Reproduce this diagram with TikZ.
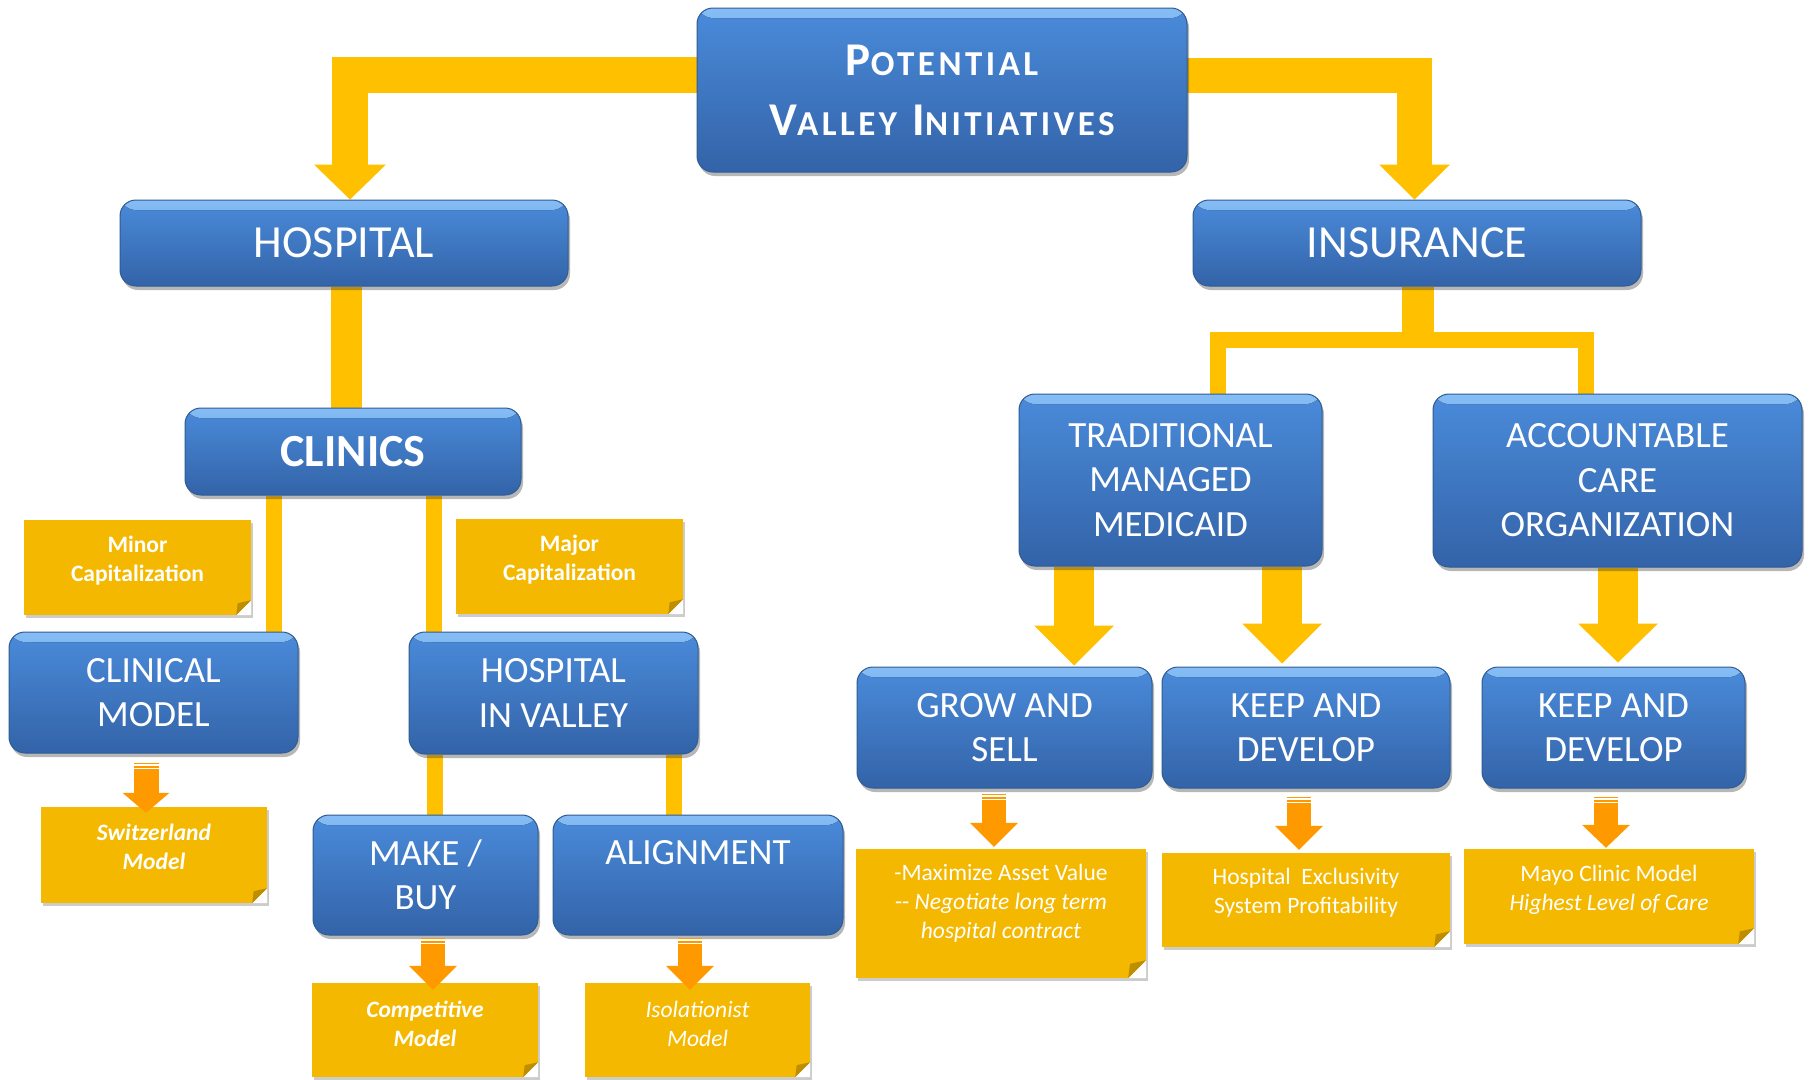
\documentclass[tikz,border=0pt]{standalone}
\usepackage{fontspec}
\setmainfont{Carlito}
\newfontfamily\lsfont[LetterSpace=10]{Carlito}
\usetikzlibrary{shadows,calc}
\definecolor{bxtop}{HTML}{4A8BDA}
\definecolor{bxbot}{HTML}{3363A8}
\definecolor{bxhi}{HTML}{86BDF5}
\definecolor{bxedge}{HTML}{2E5C94}
\definecolor{ygold}{HTML}{FFC000}
\definecolor{notec}{HTML}{F4B800}
\definecolor{foldc}{HTML}{BE8E00}
\definecolor{orng}{HTML}{FF9900}
\pgfdeclarelayer{bg}
\pgfsetlayers{bg,main}
\newcommand\ahead[4]{\fill[fill=#4] ($(#1)+(-#2/2,-#3)$) -- ($(#1)+(#2/2,-#3)$) -- (#1) -- cycle;}
\newcommand\fold[2]{%
  \fill[white] (#1.south east) -- ($(#1.south east)+(0,-#2)$) -- ($(#1.south east)+(-#2,0)$) -- cycle;
  \fill[foldc] ($(#1.south east)+(0,-#2)$) -- ($(#1.south east)+(-#2,0)$) -- ($(#1.south east)+(-0.9*#2,-0.8*#2)$) -- cycle;}
\newcommand\stripes[2]{%
  \draw[white, line width=1.3pt] ($(#1)+(-#2/2,2.5)$) -- ($(#1)+(#2/2,2.5)$);
  \draw[white, line width=1.1pt] ($(#1)+(-#2/2,6)$) -- ($(#1)+(#2/2,6)$);}
\newcommand\sca[2]{{\fontsize{47}{60}\selectfont #1}{\fontsize{35}{60}\selectfont #2}}
\tikzset{
  bbox/.style={rounded corners=16pt, draw=bxedge, line width=1pt, top color=bxtop, bottom color=bxbot,
    text=white, align=center, inner sep=0pt,
    drop shadow={shadow xshift=2pt, shadow yshift=-4pt, opacity=0.35, fill=black!80},
    path picture={\fill[top color=bxhi, bottom color=bxtop] (path picture bounding box.north west) rectangle ($(path picture bounding box.north east)+(0,10)$);}},
  bfont/.style={font=\fontsize{37}{44.5}\selectfont},
  note/.style={fill=notec, inner sep=0pt, drop shadow={shadow xshift=2pt, shadow yshift=-3pt, opacity=0.2, fill=black}},
  ntext/.style={text=white, align=center, inner sep=0pt},
  ythick/.style={draw=ygold, line width=#1},
}
\begin{document}
\begin{tikzpicture}[x=1pt,y=-1pt]
\useasboundingbox (0,0) rectangle (1815,1079);
% blue boxes
\node[bbox, minimum width=490pt, minimum height=164pt, font=\lsfont\bfseries\fontsize{47}{60}\selectfont] (top) at (942,90)
  {\sca{P}{OTENTIAL}\\\sca{V}{ALLEY} \sca{I}{NITIATIVES}};
\node[bbox, minimum width=448pt, minimum height=86pt, font=\fontsize{46}{55}\selectfont] (hosp) at (344,243) {HOSPITAL};
\node[bbox, minimum width=448pt, minimum height=86pt, font=\fontsize{46}{55}\selectfont] (ins) at (1417,243) {INSURANCE};
\node[bbox, minimum width=336pt, minimum height=87pt, font=\bfseries\fontsize{46}{55}\selectfont] (clin) at (353,451.5) {CLINICS};
\node[bbox, bfont, minimum width=289pt, minimum height=121pt] (clinmod) at (153.5,692.5) {CLINICAL\\MODEL};
\node[bbox, bfont, minimum width=289pt, minimum height=122pt] (hiv) at (553.5,693) {HOSPITAL\\IN VALLEY};
\node[bbox, bfont, minimum width=225pt, minimum height=120pt] (make) at (425.5,875) {MAKE /\\BUY};
\node[bbox, bfont, minimum width=290pt, minimum height=120pt] (alig) at (698,875) {ALIGNMENT\\\mbox{}};
\node[bbox, bfont, minimum width=303pt, minimum height=172pt] (tmm) at (1170.5,480) {TRADITIONAL\\MANAGED\\MEDICAID};
\node[bbox, bfont, minimum width=369pt, minimum height=173pt] (aco) at (1617.5,480.5) {ACCOUNTABLE\\CARE\\ORGANIZATION};
\node[bbox, bfont, minimum width=295pt, minimum height=121pt] (grow) at (1004.5,727.5) {GROW AND\\SELL};
\node[bbox, bfont, minimum width=288pt, minimum height=121pt] (keepa) at (1306,727.5) {KEEP AND\\DEVELOP};
\node[bbox, bfont, minimum width=263pt, minimum height=121pt] (keepb) at (1613.5,727.5) {KEEP AND\\DEVELOP};
% notes
\node[note, minimum width=227pt, minimum height=95pt] (nminor) at (137.5,567.5) {};
\node[note, minimum width=227pt, minimum height=95pt] (nmajor) at (569.5,566.5) {};
\node[note, minimum width=226pt, minimum height=96pt] (nswiss) at (154,855) {};
\node[note, minimum width=226pt, minimum height=94pt] (ncomp) at (425,1030) {};
\node[note, minimum width=225pt, minimum height=94pt] (niso) at (697.5,1030) {};
\node[note, minimum width=290pt, minimum height=129pt] (ngrow) at (1001,913.5) {};
\node[note, minimum width=288pt, minimum height=94pt] (nkeep) at (1306,900) {};
\node[note, minimum width=290pt, minimum height=95pt] (nmayo) at (1609,896.5) {};
\fold{nminor}{15}\fold{nmajor}{15}\fold{nswiss}{15}\fold{ncomp}{15}
\fold{niso}{15}\fold{ngrow}{18}\fold{nkeep}{16}\fold{nmayo}{16}
\node[ntext, font=\bfseries\fontsize{23.5}{29}\selectfont] (tminor) at ($(nminor)+(0,-7)$) {Minor\\Capitalization};
\node[ntext, font=\bfseries\fontsize{23.5}{29}\selectfont] (tmajor) at ($(nmajor)+(0,-7)$) {Major\\Capitalization};
\node[ntext, font=\bfseries\itshape\fontsize{23.5}{29}\selectfont] (tswiss) at ($(nswiss)+(0,-8)$) {Switzerland\\Model};
\node[ntext, font=\bfseries\itshape\fontsize{23.5}{29}\selectfont] (tcomp) at ($(ncomp)+(0,-6)$) {Competitive\\Model};
\node[ntext, font=\itshape\fontsize{23.5}{29}\selectfont] (tiso) at ($(niso)+(0,-6)$) {Isolationist\\Model};
\node[ntext, font=\fontsize{23.5}{29}\selectfont] (tgrow) at ($(ngrow)+(0,-10)$) {-Maximize Asset Value\\{-}{-} \textit{Negotiate long term}\\\textit{hospital contract}};
\node[ntext, font=\fontsize{23.5}{29}\selectfont] (tkeep) at ($(nkeep)+(0,-7)$) {Hospital\ \ Exclusivity\\System Profitability};
\node[ntext, font=\fontsize{23.5}{29}\selectfont] (tmayo) at ($(nmayo)+(0,-7)$) {Mayo Clinic Model\\\textit{Highest Level of Care}};
% orange arrows
\coordinate (o1) at ($(clinmod.south)+(-7.5,9)$);
\coordinate (o1t) at ($(o1 |- nswiss.north)+(0,6)$);
\draw[orng, line width=25pt] (o1) -- ($(o1t)+(0,-19.5)$); \ahead{o1t}{47}{20}{orng} \stripes{o1}{25}
\coordinate (o2) at ($(make.south)+(7.5,2)$);
\coordinate (o2t) at ($(o2 |- ncomp.north)+(0,7)$);
\draw[orng, line width=24pt] (o2) -- ($(o2t)+(0,-23.5)$); \ahead{o2t}{48}{24}{orng} \stripes{o2}{24}
\coordinate (o3) at ($(alig.south)+(-8,2)$);
\coordinate (o3t) at ($(o3 |- niso.north)+(0,7)$);
\draw[orng, line width=24pt] (o3) -- ($(o3t)+(0,-23.5)$); \ahead{o3t}{48}{24}{orng} \stripes{o3}{24}
\coordinate (o4) at ($(grow.south)+(-10.5,5)$);
\coordinate (o4t) at ($(o4 |- ngrow.north)+(0,-2)$);
\draw[orng, line width=24pt] (o4) -- ($(o4t)+(0,-23.5)$); \ahead{o4t}{48}{24}{orng} \stripes{o4}{24}
\coordinate (o5) at ($(keepa.south)+(-7,8)$);
\coordinate (o5t) at ($(o5 |- nkeep.north)+(0,-3)$);
\draw[orng, line width=24pt] (o5) -- ($(o5t)+(0,-23.5)$); \ahead{o5t}{48}{24}{orng} \stripes{o5}{24}
\coordinate (o6) at ($(keepb.south)+(-7.5,8)$);
\coordinate (o6t) at ($(o6 |- nmayo.north)+(0,-1)$);
\draw[orng, line width=24pt] (o6) -- ($(o6t)+(0,-22.5)$); \ahead{o6t}{48}{23}{orng} \stripes{o6}{24}
% yellow connectors
\begin{pgfonlayer}{bg}
\fill[white] (0,0) rectangle (1815,1079);
\coordinate (th) at ($(hosp.north)+(6,0)$);
\draw[ythick=36pt] (top.center |- 0,75) -| ($(th)+(0,-34.5)$);
\ahead{th}{72}{35}{ygold}
\coordinate (ti) at ($(ins.north)+(-2.5,0)$);
\draw[ythick=35pt] (top.center |- 0,75) -| ($(ti)+(0,-34.5)$);
\ahead{ti}{71}{35}{ygold}
\coordinate (hc) at ($(hosp.south)+(2,0)$);
\draw[ythick=31pt] (hc) -- (hc |- clin.north);
\coordinate (c1) at ($(clin.south)+(-79,0)$);
\draw[ythick=16pt] (c1) -- (c1 |- clinmod.north);
\coordinate (c2) at ($(clin.south)+(81,0)$);
\draw[ythick=16pt] (c2) -- (c2 |- hiv.north);
\coordinate (h1) at ($(hiv.south)+(-119,0)$);
\draw[ythick=16pt] (h1) -- (h1 |- make.north);
\coordinate (h2) at ($(hiv.south)+(120.5,0)$);
\draw[ythick=16pt] (h2) -- (h2 |- alig.north);
\coordinate (sp) at ($(ins.south)+(1,53)$);
\draw[ythick=32pt] (ins.south -| sp) -- ($(sp)+(0,1)$);
\coordinate (s1) at ($(tmm.north)+(47.5,0)$);
\coordinate (s2) at ($(aco.north)+(-31.5,0)$);
\draw[ythick=16pt] (s1) |- (sp) -| (s2);
\coordinate (a1) at ($(tmm.south)+(-96.5,0)$);
\coordinate (a1t) at ($(a1 |- grow.north)+(0,-1)$);
\draw[ythick=40pt] (a1) -- ($(a1t)+(0,-39.5)$); \ahead{a1t}{80}{40}{ygold}
\coordinate (a2) at ($(tmm.south)+(111.5,0)$);
\coordinate (a2t) at ($(a2 |- keepa.north)+(0,-3)$);
\draw[ythick=40pt] (a2) -- ($(a2t)+(0,-39.5)$); \ahead{a2t}{80}{40}{ygold}
\coordinate (a3) at ($(aco.south)+(0.5,0)$);
\coordinate (a3t) at ($(a3 |- keepb.north)+(0,-4)$);
\draw[ythick=40pt] (a3) -- ($(a3t)+(0,-38.5)$); \ahead{a3t}{80}{39}{ygold}
\end{pgfonlayer}
\end{tikzpicture}
\end{document}
